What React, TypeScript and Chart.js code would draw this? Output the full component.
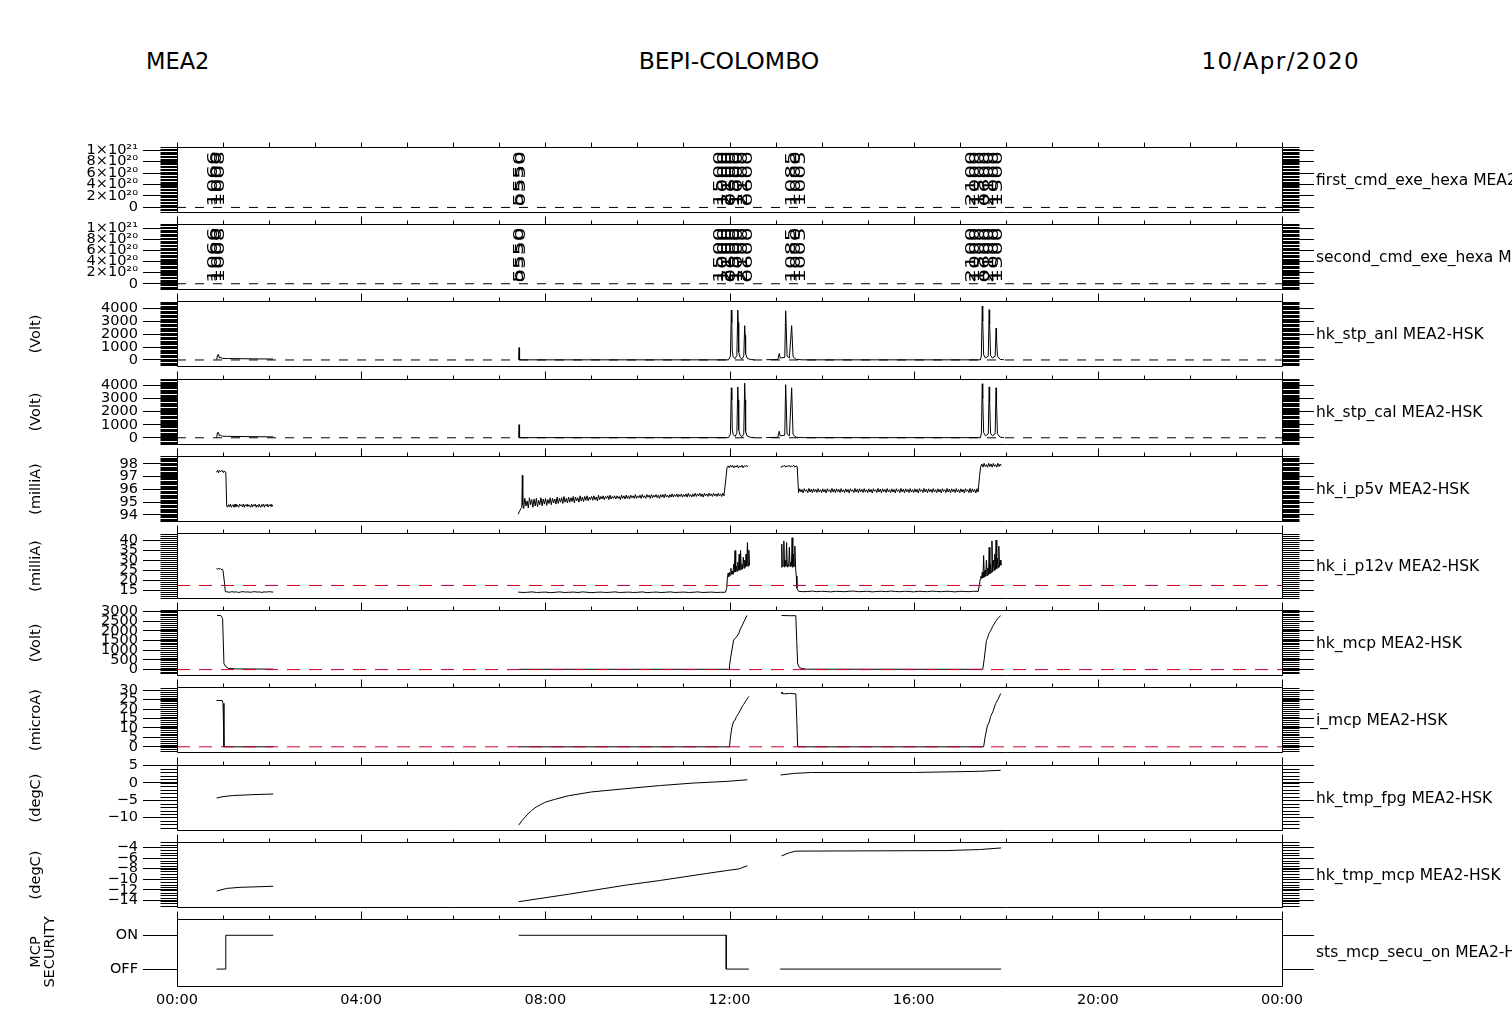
import React, { useEffect, useRef } from "react";
import { Chart, registerables } from "chart.js";
Chart.register(...registerables);

const FONT = "'DejaVu Sans', 'Liberation Sans', sans-serif";
Chart.defaults.font.family = FONT;

const W = 1512;
const PLOT_L = 177;
const PLOT_R = 1282;
const PANEL_TOPS = [145, 222, 299, 377, 454, 531, 608, 685, 763, 840, 917];
const PANEL_H = 69;
const PAD = 12;

// ---------------- text ----------------
const titleLeft = "MEA2";
const titleCenter = "BEPI-COLOMBO";
const titleRight = "10/Apr/2020";
const rightLabels = [
  "first_cmd_exe_hexa MEA2-HSK",
  "second_cmd_exe_hexa MEA2-HSK",
  "hk_stp_anl MEA2-HSK",
  "hk_stp_cal MEA2-HSK",
  "hk_i_p5v MEA2-HSK",
  "hk_i_p12v MEA2-HSK",
  "hk_mcp MEA2-HSK",
  "i_mcp MEA2-HSK",
  "hk_tmp_fpg MEA2-HSK",
  "hk_tmp_mcp MEA2-HSK",
  "sts_mcp_secu_on MEA2-HSK",
];
const unitLabels: (string[] | null)[] = [
  null, null, ["(Volt)"], ["(Volt)"], ["(milliA)"], ["(milliA)"], ["(Volt)"], ["(microA)"], ["(degC)"], ["(degC)"], ["MCP", "SECURITY"],
];

// ---------------- x axis ----------------
const hourTicks = [0, 4, 8, 12, 16, 20, 24];
const hourLabels = ["00:00", "04:00", "08:00", "12:00", "16:00", "20:00", "00:00"];

// ---------------- panels 1-2: executed command codes ----------------
const cmdTimes = [0.8, 0.88, 0.95, 7.43, 7.47, 11.78, 11.86, 11.95, 12.03, 12.12, 12.2, 12.3, 12.4, 13.35, 13.45, 13.55, 17.25, 17.35, 17.45, 17.55, 17.65, 17.75, 17.85];
const cmdCodes = ["1066", "1000", "1008", "5550", "0550", "1500", "1000", "2100", "0600", "1500", "1000", "2100", "0600", "1085", "1000", "1005", "2100", "1000", "1500", "0600", "2100", "1000", "1500"];
const hexTicks = [0, 2e20, 4e20, 6e20, 8e20, 1e21];
const hexTickLabels = ["0", "2×10²⁰", "4×10²⁰", "6×10²⁰", "8×10²⁰", "1×10²¹"];

// ---------------- panel 3: hk_stp_anl ----------------
const stpT = [0.86, 0.88, 0.9, 0.92, 0.95, 0.98, 1.1, 1.5, 2.09, 2.1,
  7.42, 7.43, 7.44, 7.5, 11.98, 12.02, 12.04, 12.05, 12.06, 12.08, 12.12, 12.16, 12.18, 12.19, 12.2, 12.23, 12.27, 12.31, 12.33, 12.34, 12.35, 12.38, 12.45, 12.54, 12.6,
  12.8, 13.05, 13.08, 13.1, 13.2, 13.22, 13.23, 13.25, 13.3, 13.35, 13.36, 13.38, 13.45, 13.6, 17.45, 17.47, 17.49, 17.5, 17.52, 17.56, 17.62, 17.64, 17.65, 17.67, 17.71, 17.77, 17.79, 17.8, 17.82, 17.88, 17.96];
const stpAnlV = [30, 380, 420, 150, 200, 120, 110, 90, 70, null,
  0, 950, 30, 10, 10, 300, 3850, 2900, 700, 250, 100, 350, 3850, 2900, 600, 200, 80, 300, 2650, 1900, 500, 150, 30, 20, null,
  20, 30, 500, 150, 200, 3800, 2800, 300, 150, 2650, 1900, 250, 40, 10, 10, 300, 4170, 3000, 400, 150, 300, 3880, 2800, 350, 150, 300, 2450, 1700, 300, 40, 20];
// ---------------- panel 4: hk_stp_cal ----------------
const stpCalV = [30, 390, 410, 150, 200, 120, 110, 90, 70, null,
  0, 1000, 30, 10, 10, 300, 3830, 2900, 700, 250, 100, 350, 3900, 2900, 600, 200, 80, 300, 4190, 2900, 500, 150, 30, 20, null,
  20, 30, 500, 150, 200, 4070, 2900, 300, 150, 3830, 2600, 250, 40, 10, 10, 300, 4140, 3000, 400, 150, 300, 3900, 2800, 350, 150, 300, 3830, 2600, 300, 40, 20];

// ---------------- panel 5: hk_i_p5v (runs: start hour, step hour, values) ----------------
const p5vA1 = [97.35, 97.5, 97.3, 97.5, 97.4, 97.45, 97.5, 97.35, 97.45, 97.4, 97.35];
const p5vA2 = [94.7, 94.6, 94.8, 94.65, 94.85, 94.6, 94.75, 94.8, 94.6, 94.85,
  94.65, 94.8, 94.7, 94.6, 94.85, 94.7, 94.8, 94.65, 94.85, 94.6,
  94.8, 94.7, 94.85, 94.65, 94.8, 94.7, 94.6, 94.85, 94.62, 94.8,
  94.7, 94.85, 94.6, 94.78, 94.65, 94.85, 94.7, 94.6, 94.82, 94.68,
  94.85, 94.6, 94.8, 94.7, 94.85, 94.62, 94.8, 94.7, 94.85, 94.65, 94.8];
const p5vB1T = [7.41, 7.44, 7.47, 7.49, 7.5, 7.51];
const p5vB1 = [94.05, 94.3, 94.5, 94.6, 97.1, 94.8];
const p5vB2 = [
  94.5, 95.3, 94.7, 95.1, 94.55, 95.35, 94.8, 95.2, 94.6, 95.25,
  94.7, 95.3, 94.65, 95.15, 94.8, 95.35, 94.7, 95.25, 94.85, 95.3,
  94.75, 95.2, 94.9, 95.35, 94.8, 95.3, 94.95, 95.25, 94.85, 95.4,
  94.9, 95.3, 95.0, 95.35, 94.9, 95.45, 95.0, 95.3, 94.95, 95.4,
  95.0, 95.35, 95.05, 95.45, 94.95, 95.4, 95.1, 95.35, 95.0, 95.5,
  95.1, 95.4, 95.05, 95.45, 95.15, 95.5, 95.1, 95.4, 95.2, 95.45,
  95.15, 95.5, 95.2, 95.4, 95.1, 95.55, 95.2, 95.45, 95.25, 95.5,
  95.2, 95.45, 95.3, 95.5, 95.2, 95.55, 95.25, 95.45, 95.3, 95.5,
  95.25, 95.5, 95.3, 95.45, 95.2, 95.55, 95.3, 95.5, 95.25, 95.55,
  95.3, 95.5, 95.25, 95.55, 95.35, 95.5, 95.3, 95.6, 95.3, 95.5,
  95.35, 95.55, 95.3, 95.6, 95.35, 95.5, 95.3, 95.6, 95.4, 95.55,
  95.3, 95.6, 95.35, 95.55, 95.4, 95.6, 95.35, 95.55, 95.3, 95.6,
  95.4, 95.6, 95.35, 95.65, 95.4, 95.55, 95.35, 95.6, 95.4, 95.65,
  95.4, 95.6, 95.45, 95.65, 95.4, 95.6, 95.45, 95.65, 95.4, 95.6,
  95.45, 95.65, 95.4, 95.7, 95.45, 95.6, 95.4, 95.65, 95.45, 95.7,
  95.45, 95.65, 95.5, 95.7, 95.45, 95.65, 95.4, 95.7, 95.5, 95.65,
  95.45, 95.7, 95.5, 95.65, 95.45, 95.7, 95.5, 95.65, 95.45, 95.7,
  95.5, 95.65, 95.45, 95.7, 95.5];
const p5vB3 = [96.8, 97.7, 97.85, 97.7, 97.9, 97.75, 97.9, 97.7, 97.85, 97.75, 97.9, 97.7, 97.85, 97.75, 97.9, 97.7, 97.85, 97.8, 97.9, 97.75];
const p5vC1 = [97.7, 97.85, 97.8, 97.9, 97.75, 97.85, 97.8, 97.9, 97.75, 97.85, 97.8, 97.9, 97.75, 97.85, 97.8];
const p5vC2 = [
  95.75, 96.05, 95.8, 96.0, 95.72, 96.06, 95.85, 95.98, 95.75, 96.08,
  95.8, 96.02, 95.74, 96.05, 95.82, 96.0, 95.76, 96.07, 95.8, 95.98,
  95.75, 96.05, 95.8, 96.0, 95.72, 96.06, 95.85, 95.98, 95.75, 96.08,
  95.8, 96.02, 95.74, 96.05, 95.82, 96.0, 95.76, 96.07, 95.8, 95.98,
  95.75, 96.05, 95.8, 96.0, 95.72, 96.06, 95.85, 95.98, 95.75, 96.08,
  95.8, 96.02, 95.74, 96.05, 95.82, 96.0, 95.76, 96.07, 95.8, 95.98,
  95.75, 96.05, 95.8, 96.0, 95.72, 96.06, 95.85, 95.98, 95.75, 96.08,
  95.8, 96.02, 95.74, 96.05, 95.82, 96.0, 95.76, 96.07, 95.8, 95.98,
  95.75, 96.05, 95.8, 96.0, 95.72, 96.06, 95.85, 95.98, 95.75, 96.08,
  95.8, 96.02, 95.74, 96.05, 95.82, 96.0, 95.76, 96.07, 95.8, 95.98,
  95.75, 96.05, 95.8, 96.0, 95.72, 96.06, 95.85, 95.98, 95.75, 96.08,
  95.8, 96.02, 95.74, 96.05, 95.82, 96.0, 95.76, 96.07, 95.8, 95.98,
  95.75, 96.05, 95.8, 96.0, 95.72, 96.06, 95.85, 95.98, 95.75, 96.08,
  95.8, 96.02, 95.74, 96.05, 95.82, 96.0, 95.76, 96.07, 95.8, 95.98,
  95.75, 96.05, 95.8, 96.0, 95.72, 96.06, 95.85, 95.98, 95.75, 96.08,
  95.75, 96.05, 95.8, 96.0, 95.72, 96.06, 95.8];
const p5vC3 = [97.0, 97.8, 98.0, 97.75, 98.05, 97.8, 97.95, 97.75, 98.05, 97.8, 98.0, 97.75, 98.05, 97.8, 97.95, 97.75, 98.05, 97.8, 98.0, 97.85];

// ---------------- panel 6: hk_i_p12v ----------------
const p12vA1T = [0.86, 0.88, 0.9, 0.92, 0.94, 0.96, 0.98, 1.0, 1.03, 1.05];
const p12vA1 = [25.9, 25.4, 26.1, 25.5, 25.8, 25.3, 25.6, 24.8, 19, 14.3];
const p12vA2 = [14.2, 14.0, 14.3, 14.1, 14.2, 13.9, 14.2, 14.3, 14.1, 14.2, 14.0, 14.2, 14.3, 14.1, 14.2, 13.9, 14.2, 14.1, 14.3, 14.2, 14.1];
const p12vB1 = [14.1, 13.9, 14.0, 14.2, 13.9, 14.0, 14.1, 13.8, 14.0, 14.2, 13.9, 14.0, 14.1, 13.9, 14.2, 14.0, 13.8, 14.0, 14.1, 13.9,
  14.0, 14.2, 13.9, 14.0, 14.1, 13.9, 14.0, 14.2, 13.8, 14.0, 14.1, 13.9, 14.0, 14.2, 13.9, 14.0, 14.1, 13.9, 14.0, 14.2, 13.9, 14.0, 14.1, 13.9, 14.0, 14.0];
const p12vB2 = [16, 21.5, 23.5, 21.8, 24, 22.5, 26, 23, 24.5, 23, 28, 24, 34.8, 24.2, 27, 24.5, 29, 25, 33, 25, 34.8, 25.5, 28, 25.5, 31.5, 26, 30, 26.5, 33, 27, 38.8, 27, 35, 27.5];
const p12vC1 = [26.5, 38, 26.8, 27, 39.6, 26.5, 30, 27, 38.8, 26.6, 28, 27, 36.4, 26.8, 29, 27, 41.2, 26.5, 33, 27, 37, 26, 22, 16];
const p12vC2 = [14.5, 14.3, 14.4, 14.6, 14.3, 14.5, 14.4, 14.2, 14.5, 14.4, 14.3, 14.5, 14.6, 14.3, 14.4, 14.5, 14.2, 14.4, 14.5, 14.3,
  14.6, 14.4, 14.3, 14.5, 14.4, 14.2, 14.5, 14.4, 14.3, 14.6, 14.4, 14.3, 14.5, 14.4, 14.2, 14.5, 14.4, 14.3, 14.5, 14.4];
const p12vC3 = [18, 20.5, 22, 20.8, 24, 21.2, 32.3, 21.5, 25, 22, 30, 22.3, 26, 22.8, 36.4, 23.2, 28, 23.8, 39.6, 24.2, 30, 24.8, 33, 25.2, 40, 25.8, 31, 26.3, 37, 26.8, 30, 27.5];

// ---------------- panel 7: hk_mcp ----------------
const mcpT = [0.87, 0.95, 0.99, 1.02, 1.06, 1.12, 1.3, 2.09, 2.1,
  7.42, 11.99, 12.0, 12.03, 12.09, 12.15, 12.2, 12.22, 12.27, 12.32, 12.38, 12.4,
  13.13, 13.3, 13.44, 13.46, 13.48, 13.52, 13.6, 13.7, 17.5, 17.53, 17.58, 17.6, 17.64, 17.67, 17.72, 17.78, 17.83, 17.89];
const mcpV = [2800, 2800, 2650, 300, 150, 60, 35, 25, null,
  15, 15, 200, 700, 1525, 1690, 1850, 2016, 2260, 2510, 2800, null,
  2800, 2790, 2790, 1500, 300, 100, 40, 20, 15, 500, 1500, 1600, 1900, 2000, 2250, 2490, 2650, 2800];

// ---------------- panel 8: i_mcp ----------------
const imcpT = [0.86, 0.98, 1.0, 1.02, 2.09, 2.1,
  7.42, 12.0, 12.02, 12.05, 12.09, 12.12, 12.15, 12.2, 12.24, 12.27, 12.31, 12.36, 12.42, 12.43,
  13.13, 13.14, 13.2, 13.3, 13.44, 13.46, 13.48, 17.52, 17.55, 17.6, 17.64, 17.67, 17.72, 17.78, 17.83, 17.89];
const imcpV = [24.5, 24.5, 23, 0, 0, null,
  0, 0, 5, 10, 13.5, 14, 16, 17.8, 19.5, 21.1, 22.5, 24.5, 26.6, null,
  29, 28.2, 28, 28.3, 28, 15, 0, 0, 5, 11, 13, 16, 18.5, 22.9, 25, 28.2];

// ---------------- panel 9: hk_tmp_fpg ----------------
const fpgT = [0.86, 1.0, 1.2, 1.6, 2.09, 2.1,
  7.42, 7.5, 7.6, 7.7, 7.8, 7.9, 8.0, 8.2, 8.5, 9.0, 9.75, 10.5, 11.2, 11.95, 12.39, 12.4,
  13.11, 13.41, 13.78, 16.0, 17.45, 17.89];
const fpgV = [-4.4, -4.0, -3.7, -3.45, -3.25, null,
  -12.2, -10.8, -9.3, -8.0, -7.0, -6.3, -5.6, -4.8, -3.75, -2.65, -1.7, -0.8, -0.1, 0.4, 0.86, null,
  2.24, 2.7, 2.96, 2.96, 3.3, 3.6];

// ---------------- panel 10: hk_tmp_mcp ----------------
const tmcpT = [0.86, 1.08, 1.37, 2.09, 2.1,
  7.42, 8.5, 9.74, 10.5, 11.5, 11.94, 12.2, 12.39, 12.4,
  13.13, 13.3, 13.44, 16.72, 17.45, 17.9];
const tmcpV = [-12.2, -11.7, -11.5, -11.3, null,
  -14.2, -12.8, -11.1, -10.2, -8.9, -8.35, -8.05, -7.45, null,
  -5.6, -5.0, -4.7, -4.6, -4.4, -4.1];

// ---------------- panel 11: sts_mcp_secu_on (0 = OFF, 1 = ON) ----------------
const secuT = [0.86, 1.06, 1.06, 2.09, 2.1, 7.42, 11.93, 11.93, 12.42, 12.43, 13.1, 17.9];
const secuV = [0, 0, 1, 1, null, 1, 1, 0, 0, null, 0, 0];

// ---------------- helpers ----------------
type Pt = { x: number; y: number | null };
const pts = (t: number[], v: (number | null)[]): Pt[] => t.map((x, i) => ({ x, y: v[i] }));
const run = (start: number, step: number, v: number[]): Pt[] => v.map((y, i) => ({ x: +(start + i * step).toFixed(4), y }));
const gap = (x: number): Pt => ({ x, y: null });

type Panel = {
  min: number; max: number; majors: number[]; labels: string[]; minor: number;
  series: Pt[]; ref?: { v: number; color: string; dash: number[] }; cmd?: boolean;
};

const RED = "#d00020";
const BLACK_DASH = [9, 9];
const RED_DASH = [13, 9];

const panels: Panel[] = [
  { min: -0.085e21, max: 1.06e21, majors: hexTicks, labels: hexTickLabels, minor: 2.5e19, series: [], ref: { v: 0, color: "#000", dash: BLACK_DASH }, cmd: true },
  { min: -0.1e21, max: 1.08e21, majors: hexTicks, labels: hexTickLabels, minor: 2.5e19, series: [], ref: { v: 0, color: "#000", dash: BLACK_DASH }, cmd: true },
  { min: -490, max: 4580, majors: [0, 1000, 2000, 3000, 4000], labels: ["0", "1000", "2000", "3000", "4000"], minor: 100, series: pts(stpT, stpAnlV), ref: { v: 0, color: "#000", dash: BLACK_DASH } },
  { min: -500, max: 4530, majors: [0, 1000, 2000, 3000, 4000], labels: ["0", "1000", "2000", "3000", "4000"], minor: 100, series: pts(stpT, stpCalV), ref: { v: 0, color: "#000", dash: BLACK_DASH } },
  {
    min: 93.5, max: 98.65, majors: [94, 95, 96, 97, 98], labels: ["94", "95", "96", "97", "98"], minor: 0.1,
    series: [...run(0.86, 0.02, p5vA1), ...run(1.08, 0.02, p5vA2), gap(2.1), ...pts(p5vB1T, p5vB1), ...run(7.53, 0.025, p5vB2), ...run(11.92, 0.025, p5vB3), gap(12.5),
      ...run(13.12, 0.025, p5vC1), ...run(13.5, 0.025, p5vC2), ...run(17.43, 0.025, p5vC3)],
  },
  {
    min: 11, max: 43.7, majors: [15, 20, 25, 30, 35, 40], labels: ["15", "20", "25", "30", "35", "40"], minor: 1,
    series: [...pts(p12vA1T, p12vA1), ...run(1.09, 0.05, p12vA2), gap(2.1), ...run(7.41, 0.1, p12vB1), ...run(11.94, 0.015, p12vB2), gap(12.5),
      ...run(13.12, 0.015, p12vC1), ...run(13.5, 0.1, p12vC2), ...run(17.43, 0.015, p12vC3)],
    ref: { v: 17.4, color: RED, dash: RED_DASH },
  },
  { min: -295, max: 3100, majors: [0, 500, 1000, 1500, 2000, 2500, 3000], labels: ["0", "500", "1000", "1500", "2000", "2500", "3000"], minor: 100, series: pts(mcpT, mcpV), ref: { v: 0, color: RED, dash: RED_DASH } },
  { min: -2.9, max: 31.8, majors: [0, 5, 10, 15, 20, 25, 30], labels: ["0", "5", "10", "15", "20", "25", "30"], minor: 1, series: pts(imcpT, imcpV), ref: { v: 0, color: RED, dash: RED_DASH } },
  { min: -13.7, max: 5.2, majors: [-10, -5, 0, 5], labels: ["−10", "−5", "0", "5"], minor: 1, series: pts(fpgT, fpgV) },
  { min: -15.25, max: -2.93, majors: [-14, -12, -10, -8, -6, -4], labels: ["−14", "−12", "−10", "−8", "−6", "−4"], minor: 0.5, series: pts(tmcpT, tmcpV) },
  { min: -0.5, max: 1.49, majors: [0, 1], labels: ["OFF", "ON"], minor: 0, series: pts(secuT, secuV) },
];

function deco(p: Panel, idx: number) {
  return {
    id: "deco" + idx,
    afterDatasetsDraw(chart: any) {
      const { ctx, chartArea: a, scales } = chart;
      const xs = scales.x;
      const ys = scales.y;
      const L = Math.round(a.left) + 0.5;
      const R = Math.round(a.right) + 0.5;
      const T = Math.round(a.top) + 0.5;
      const B = Math.round(a.bottom) + 0.5;
      ctx.save();
      ctx.strokeStyle = "#000";
      ctx.lineWidth = 1;
      ctx.beginPath();
      ctx.rect(L, T, R - L, B - T);
      if (p.minor > 0) {
        for (let k = Math.ceil(p.min / p.minor); k * p.minor <= p.max; k++) {
          const py = Math.round(ys.getPixelForValue(k * p.minor)) + 0.5;
          ctx.moveTo(L - 17, py); ctx.lineTo(L, py);
          ctx.moveTo(R, py); ctx.lineTo(R + 17, py);
        }
      }
      for (let h = 0; h <= 24; h++) {
        const px = Math.round(xs.getPixelForValue(h)) + 0.5;
        const len = idx === 0 ? 5 : h % 4 === 0 ? 8 : 4;
        ctx.moveTo(px, T - len); ctx.lineTo(px, T);
      }
      ctx.stroke();
      if (p.cmd) {
        ctx.fillStyle = "#000";
        ctx.font = `14px ${FONT}`;
        ctx.textBaseline = "middle";
        ctx.textAlign = "left";
        const py = ys.getPixelForValue(0) - 1;
        cmdTimes.forEach((t, i) => {
          const px = xs.getPixelForValue(t);
          ctx.save();
          ctx.translate(px, py);
          ctx.rotate(-Math.PI / 2);
          ctx.scale(1.55, 1);
          ctx.fillText(cmdCodes[i], 0, 0);
          ctx.restore();
        });
      }
      ctx.restore();
    },
  };
}

function PanelChart({ p, idx }: { p: Panel; idx: number }) {
  const ref = useRef<HTMLCanvasElement | null>(null);
  const isLast = idx === panels.length - 1;
  const height = isLast ? PAD + PANEL_H + 32 : PANEL_H + 2 * PAD;
  useEffect(() => {
    if (!ref.current) return;
    const datasets: any[] = [];
    if (p.ref) {
      datasets.push({ data: [{ x: 0, y: p.ref.v }, { x: 24, y: p.ref.v }], borderColor: p.ref.color, borderDash: p.ref.dash, borderWidth: 1, pointRadius: 0 });
    }
    datasets.push({ data: p.series, borderColor: "#000", borderWidth: 1, pointRadius: 0, spanGaps: false, tension: 0 });
    const setMajors = (s: any) => { s.ticks = p.majors.map((v) => ({ value: v })); };
    const chart = new Chart(ref.current, {
      type: "line",
      data: { datasets },
      options: {
        animation: false,
        responsive: false,
        events: [],
        layout: { padding: { top: PAD, bottom: isLast ? 2 : PAD, left: 0, right: 0 } },
        plugins: { legend: { display: false }, tooltip: { enabled: false } },
        scales: {
          x: {
            type: "linear", min: 0, max: 24, display: isLast, position: "bottom",
            grid: { display: false, drawTicks: false }, border: { display: false },
            ticks: { autoSkip: false, maxRotation: 0, padding: 6, color: "#000", font: { size: 14.5, family: FONT }, callback: (v: any) => hourLabels[hourTicks.indexOf(Number(v))] ?? "" },
            afterBuildTicks: (s: any) => { s.ticks = hourTicks.map((v) => ({ value: v })); },
            afterFit: (s: any) => { s.height = isLast ? 30 : 0; },
          },
          y: {
            type: "linear", position: "left", min: p.min, max: p.max,
            grid: { display: true, drawOnChartArea: false, drawTicks: true, tickLength: 34, color: "#000", lineWidth: 1 },
            border: { display: false },
            ticks: { autoSkip: false, padding: 5, color: "#000", font: { size: 14.5, family: FONT }, callback: (v: any) => p.labels[p.majors.indexOf(Number(v))] ?? "" },
            afterBuildTicks: setMajors,
            afterFit: (s: any) => { s.width = PLOT_L; },
          },
          yR: {
            type: "linear", position: "right", min: p.min, max: p.max,
            grid: { display: true, drawOnChartArea: false, drawTicks: true, tickLength: 32, color: "#000", lineWidth: 1 },
            border: { display: false },
            ticks: { display: false },
            afterBuildTicks: setMajors,
            afterFit: (s: any) => { s.width = W - PLOT_R; },
          },
        },
      } as any,
      plugins: [deco(p, idx)],
    });
    return () => chart.destroy();
  }, []);
  return (
    <canvas
      ref={ref}
      width={W}
      height={height}
      style={{ position: "absolute", left: 0, top: PANEL_TOPS[idx] - PAD, width: W, height }}
    />
  );
}

export default function App() {
  const txt: React.CSSProperties = { position: "absolute", fontFamily: FONT, color: "#000", whiteSpace: "nowrap" };
  return (
    <div style={{ position: "absolute", left: 0, top: 0, width: W, height: 1020, overflow: "hidden", background: "#fff" }}>
      <div style={{ ...txt, left: 146, top: 48, fontSize: 22.5, lineHeight: "26px" }}>{titleLeft}</div>
      <div style={{ ...txt, left: 729, top: 48, fontSize: 23.5, lineHeight: "26px", transform: "translateX(-50%)" }}>{titleCenter}</div>
      <div style={{ ...txt, right: W - 1360, top: 48, fontSize: 23, lineHeight: "26px", letterSpacing: "1.4px" }}>{titleRight}</div>
      {panels.map((p, i) => (
        <PanelChart key={i} p={p} idx={i} />
      ))}
      {rightLabels.map((s, i) => (
        <div key={"r" + i} style={{ ...txt, left: 1316, top: PANEL_TOPS[i] + PANEL_H / 2 - 9, fontSize: 15.5, lineHeight: "18px" }}>{s}</div>
      ))}
      {unitLabels.map((u, i) =>
        u ? (
          <div
            key={"u" + i}
            style={{
              ...txt,
              left: u.length > 1 ? 42 : 35,
              top: PANEL_TOPS[i] + PANEL_H / 2,
              fontSize: 14.5,
              lineHeight: "14px",
              textAlign: "center",
              transform: "translate(-50%, -50%) rotate(-90deg)",
            }}
          >
            {u.map((line, k) => (
              <div key={k}>{line}</div>
            ))}
          </div>
        ) : null
      )}
    </div>
  );
}
